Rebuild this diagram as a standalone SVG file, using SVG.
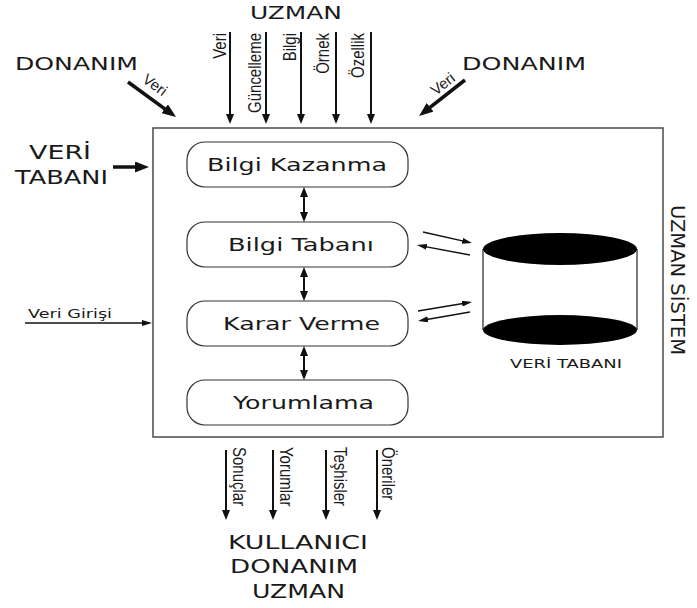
<svg xmlns="http://www.w3.org/2000/svg" width="697" height="608" viewBox="0 0 697 608">
  <style>
    .bg { fill: #ffffff; }
    .frame { fill: none; stroke: #555; stroke-width: 1.6; }
    .node rect { fill: #ffffff; stroke: #333; stroke-width: 1.2; }
    .lbl { font-family: "DejaVu Sans", Verdana, sans-serif; fill: #1a1a1a; }
    .big { font-size: 18px; }
    .node text { font-size: 18px; }
    .vlab { font-family: "Liberation Sans", Arial, sans-serif; font-size: 15px; fill: #1a1a1a; }
    .thin { stroke: #111; stroke-width: 2; fill: none; }
    .hair { stroke: #111; stroke-width: 1.3; fill: none; }
    .thick { stroke: #111; stroke-width: 3.5; fill: none; }
  </style>
  <defs>
    <marker id="ah" markerUnits="userSpaceOnUse" markerWidth="10" markerHeight="8" refX="7" refY="4" orient="auto-start-reverse">
      <path d="M0,0 L10,4 L0,8 z" fill="#111"/>
    </marker>
    <marker id="ahs" markerUnits="userSpaceOnUse" markerWidth="10" markerHeight="6" refX="7" refY="3" orient="auto">
      <path d="M0,0 L10,3 L0,6 z" fill="#111"/>
    </marker>
    <marker id="ahb" markerUnits="userSpaceOnUse" markerWidth="14" markerHeight="11" refX="9" refY="5.5" orient="auto">
      <path d="M0,0 L14,5.5 L0,11 z" fill="#111"/>
    </marker>
  </defs>

  <rect class="bg" x="0" y="0" width="697" height="608"/>

  <!-- system frame -->
  <g id="uzman-sistem">
    <rect class="frame" x="153" y="128" width="510" height="309"/>
    <text class="lbl" font-size="20" transform="translate(671,205) rotate(90)" textLength="150" lengthAdjust="spacingAndGlyphs">UZMAN SİSTEM</text>
  </g>

  <!-- processing stages -->
  <g id="bilgi-kazanma" class="node">
    <rect x="187" y="142" width="221" height="45" rx="18"/>
    <text class="lbl" x="207" y="171" textLength="180" lengthAdjust="spacingAndGlyphs">Bilgi Kazanma</text>
  </g>
  <g id="bilgi-tabani" class="node">
    <rect x="187" y="222" width="221" height="45" rx="18"/>
    <text class="lbl" x="228" y="251" textLength="146" lengthAdjust="spacingAndGlyphs">Bilgi Tabanı</text>
  </g>
  <g id="karar-verme" class="node">
    <rect x="187" y="301" width="221" height="45" rx="18"/>
    <text class="lbl" x="223" y="330" textLength="157" lengthAdjust="spacingAndGlyphs">Karar Verme</text>
  </g>
  <g id="yorumlama" class="node">
    <rect x="187" y="380" width="221" height="45" rx="18"/>
    <text class="lbl" x="233" y="409" textLength="141" lengthAdjust="spacingAndGlyphs">Yorumlama</text>
  </g>

  <!-- database cylinder -->
  <g id="veri-tabani-db">
    <line x1="483" y1="249" x2="483" y2="330" stroke="#333" stroke-width="1.3"/>
    <line x1="637" y1="249" x2="637" y2="330" stroke="#333" stroke-width="1.3"/>
    <ellipse cx="560" cy="249" rx="77" ry="16" fill="#000"/>
    <ellipse cx="560" cy="330" rx="77" ry="15" fill="#000"/>
    <text class="lbl" x="510" y="368" font-size="13" textLength="112" lengthAdjust="spacingAndGlyphs">VERİ TABANI</text>
  </g>

  <!-- external sources and sinks -->
  <g id="uzman-kaynak">
    <text class="lbl" x="250" y="19" font-size="17" textLength="92" lengthAdjust="spacingAndGlyphs">UZMAN</text>
  </g>
  <g id="donanim-sol">
    <text class="lbl big" x="15" y="70" textLength="123" lengthAdjust="spacingAndGlyphs">DONANIM</text>
  </g>
  <g id="donanim-sag">
    <text class="lbl big" x="462" y="70" textLength="124" lengthAdjust="spacingAndGlyphs">DONANIM</text>
  </g>
  <g id="veri-tabani-kaynak">
    <text class="lbl" x="29" y="159" font-size="19" textLength="62" lengthAdjust="spacingAndGlyphs">VERİ</text>
    <text class="lbl" x="15" y="184" font-size="19" textLength="93" lengthAdjust="spacingAndGlyphs">TABANI</text>
  </g>
  <g id="veri-girisi">
    <text class="lbl" x="28" y="318" font-size="12" textLength="84" lengthAdjust="spacingAndGlyphs">Veri Girişi</text>
  </g>
  <g id="hedefler">
    <text class="lbl" x="228" y="549" font-size="19" textLength="140" lengthAdjust="spacingAndGlyphs">KULLANICI</text>
    <text class="lbl" x="230" y="573" font-size="19" textLength="128" lengthAdjust="spacingAndGlyphs">DONANIM</text>
    <text class="lbl" x="252" y="598" font-size="19" textLength="93" lengthAdjust="spacingAndGlyphs">UZMAN</text>
  </g>

  <!-- connectors -->
  <g id="connectors">
    <!-- expert inputs -->
    <line class="thin" x1="230" y1="32" x2="230" y2="121" marker-end="url(#ah)"/>
    <line class="thin" x1="266" y1="32" x2="266" y2="121" marker-end="url(#ah)"/>
    <line class="thin" x1="301" y1="32" x2="301" y2="121" marker-end="url(#ah)"/>
    <line class="thin" x1="336" y1="32" x2="336" y2="121" marker-end="url(#ah)"/>
    <line class="thin" x1="371" y1="32" x2="371" y2="121" marker-end="url(#ah)"/>
    <text class="vlab" text-anchor="end" transform="translate(226,33) scale(1.2,1) rotate(-90)">Veri</text>
    <text class="vlab" text-anchor="end" transform="translate(261,33) scale(1.2,1) rotate(-90)">Güncelleme</text>
    <text class="vlab" text-anchor="end" transform="translate(296,33) scale(1.2,1) rotate(-90)">Bilgi</text>
    <text class="vlab" text-anchor="end" transform="translate(329,33) scale(1.2,1) rotate(-90)">Örnek</text>
    <text class="vlab" text-anchor="end" transform="translate(364,33) scale(1.2,1) rotate(-90)">Özellik</text>

    <!-- hardware inputs -->
    <line class="thick" x1="128" y1="82" x2="172" y2="114.1" marker-end="url(#ahb)"/>
    <text class="vlab" font-size="14" text-anchor="middle" transform="translate(152,89) rotate(36)">Veri</text>
    <line class="thick" x1="465" y1="80" x2="423" y2="112.9" marker-end="url(#ahb)"/>
    <text class="vlab" font-size="14" text-anchor="middle" transform="translate(446,88) rotate(-38)">Veri</text>

    <!-- database source and data entry -->
    <line class="thick" x1="113" y1="167" x2="144" y2="167" stroke-width="3" marker-end="url(#ahb)"/>
    <line class="hair" x1="25" y1="323" x2="149" y2="323" marker-end="url(#ahs)"/>

    <!-- between stages -->
    <line class="thin" x1="304" y1="190" x2="304" y2="219" marker-start="url(#ah)" marker-end="url(#ah)"/>
    <line class="thin" x1="304" y1="270" x2="304" y2="298" marker-start="url(#ah)" marker-end="url(#ah)"/>
    <line class="thin" x1="304" y1="349" x2="304" y2="377" marker-start="url(#ah)" marker-end="url(#ah)"/>

    <!-- knowledge base / decision to database -->
    <line class="hair" x1="423" y1="232" x2="469.1" y2="242.3" marker-end="url(#ahs)"/>
    <line class="hair" x1="470" y1="255" x2="419.9" y2="245.6" marker-end="url(#ahs)"/>
    <line class="hair" x1="418" y1="311" x2="469" y2="302.5" marker-end="url(#ahs)"/>
    <line class="hair" x1="470" y1="312" x2="421" y2="320.5" marker-end="url(#ahs)"/>

    <!-- outputs -->
    <line class="thin" x1="226" y1="450" x2="226" y2="517" marker-end="url(#ah)"/>
    <line class="thin" x1="273" y1="450" x2="273" y2="517" marker-end="url(#ah)"/>
    <line class="thin" x1="326" y1="450" x2="326" y2="517" marker-end="url(#ah)"/>
    <line class="thin" x1="377" y1="450" x2="377" y2="517" marker-end="url(#ah)"/>
    <text class="vlab" transform="translate(233,447) scale(1.2,1) rotate(90)">Sonuçlar</text>
    <text class="vlab" transform="translate(280,447) scale(1.2,1) rotate(90)">Yorumlar</text>
    <text class="vlab" transform="translate(334,447) scale(1.2,1) rotate(90)">Teşhisler</text>
    <text class="vlab" transform="translate(382,447) scale(1.2,1) rotate(90)">Öneriler</text>
  </g>
</svg>
